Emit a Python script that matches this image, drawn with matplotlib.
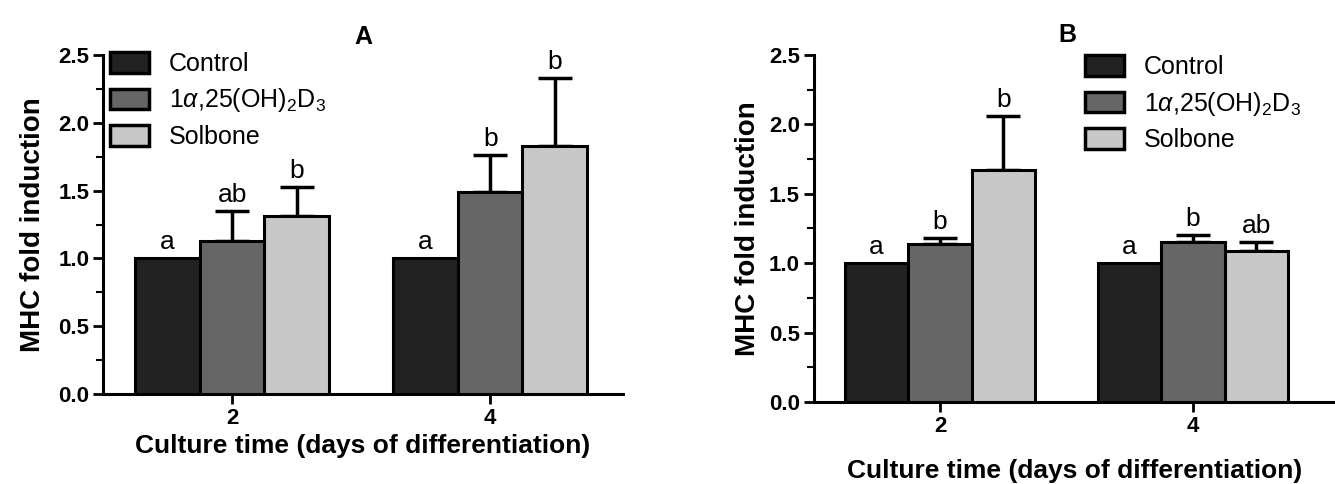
import numpy as np
import matplotlib
matplotlib.use('Agg')
import matplotlib.pyplot as plt
from matplotlib.patches import Patch
from matplotlib.ticker import MultipleLocator

plt.rcParams['font.family'] = ['Liberation Sans', 'DejaVu Sans']
plt.rcParams['mathtext.fontset'] = 'custom'
plt.rcParams['mathtext.rm'] = 'Liberation Sans'
plt.rcParams['mathtext.it'] = 'Liberation Sans:italic'

days = ['2', '4']
groups = ['Control', r'1$\alpha$,25(OH)$_2$D$_3$', 'Solbone']
colors = ['#222222', '#666666', '#c8c8c8']

# panel A
a_mean = [[1.00, 1.00], [1.13, 1.49], [1.31, 1.83]]
a_err = [[0.0, 0.0], [0.22, 0.27], [0.22, 0.50]]
a_lett = [['a', 'a'], ['ab', 'b'], ['b', 'b']]
# panel B
b_mean = [[1.00, 1.00], [1.14, 1.15], [1.67, 1.09]]
b_err = [[0.0, 0.0], [0.04, 0.05], [0.39, 0.06]]
b_lett = [['a', 'a'], ['b', 'b'], ['b', 'ab']]

fig = plt.figure(figsize=(13.35, 4.84), dpi=100)
ax1 = fig.add_axes([0.0772, 0.186, 0.3895, 0.700])
ax2 = fig.add_axes([0.6097, 0.1694, 0.390, 0.717])

def panel(ax, means, errs, letts, title, xlim, leg_anchor, ylpad, xlpad, tx, tpad):
    x = np.arange(len(days))
    w = 0.25
    for i in range(3):
        xi = x + (i - 1) * 0.25
        ax.bar(xi, means[i], w, color=colors[i], edgecolor='black', linewidth=2.2, zorder=3)
        e = np.array(errs[i])
        if e.max() > 0:
            ax.errorbar(xi, means[i], yerr=[np.zeros_like(e), e], fmt='none', ecolor='black',
                        elinewidth=2.5, capsize=12, capthick=2.5, zorder=2)
        for j in range(len(days)):
            ax.text(xi[j], means[i][j] + errs[i][j] + 0.03, letts[i][j], ha='center', va='bottom',
                    fontsize=19)
    ax.set_ylim(0, 2.5)
    ax.set_xlim(*xlim)
    ax.set_xticks(x)
    ax.set_xticklabels(days)
    ax.yaxis.set_major_locator(MultipleLocator(0.5))
    ax.yaxis.set_minor_locator(MultipleLocator(0.25))
    ax.yaxis.set_major_formatter(plt.FormatStrFormatter('%.1f'))
    for s in ['top', 'right']:
        ax.spines[s].set_visible(False)
    for s in ['left', 'bottom']:
        ax.spines[s].set_linewidth(2.2)
    ax.tick_params(axis='both', which='major', width=2, length=7, labelsize=16, pad=3)
    ax.tick_params(axis='y', which='minor', width=1.5, length=5)
    for lab in ax.get_xticklabels() + ax.get_yticklabels():
        lab.set_fontweight('bold')
    ax.set_ylabel('MHC fold induction', fontsize=20, fontweight='bold', labelpad=ylpad)
    ax.set_xlabel('Culture time (days of differentiation)', fontsize=19, fontweight='bold', labelpad=xlpad)
    ax.set_title(title, fontsize=18, fontweight='bold', pad=tpad, x=tx)
    handles = [Patch(facecolor=colors[i], edgecolor='black', linewidth=2.5) for i in range(3)]
    fig.legend(handles, groups, loc='upper left', bbox_to_anchor=leg_anchor, frameon=False,
               fontsize=18, handlelength=1.55, handleheight=0.9, labelspacing=0.42,
               handletextpad=0.8, borderpad=0, borderaxespad=0)

panel(ax1, a_mean, a_err, a_lett, 'A', (-0.5, 1.515), (110 / 1335, 1 - 52 / 484), 9, 4, 0.5, 8)
panel(ax2, b_mean, b_err, b_lett, 'B', (-0.498, 1.56), (1085 / 1335, 1 - 55 / 484), 6, 16, 0.487, 9)

fig.savefig('out.png', dpi=100)
